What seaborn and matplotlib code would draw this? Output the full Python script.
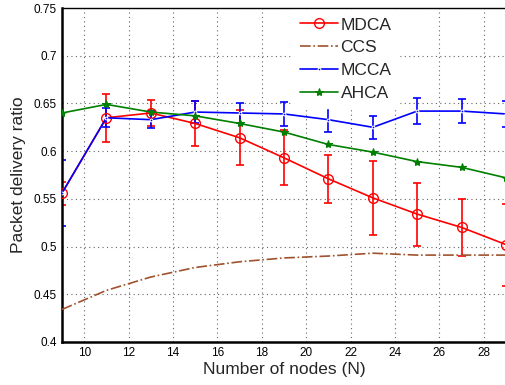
import numpy as np
import pandas as pd
import matplotlib
matplotlib.use("Agg")
import matplotlib.pyplot as plt
import seaborn as sns

# Data
nodes = [9, 11, 13, 15, 17, 19, 21, 23, 25, 27, 29]
mdca = [0.556, 0.635, 0.640, 0.629, 0.614, 0.593, 0.571, 0.551, 0.534, 0.520, 0.502]
mdca_err = [0.012, 0.025, 0.014, 0.024, 0.029, 0.029, 0.025, 0.039, 0.033, 0.030, 0.043]
ccs = [0.434, 0.454, 0.468, 0.478, 0.484, 0.488, 0.490, 0.493, 0.491, 0.491, 0.491]
mcca = [0.556, 0.635, 0.633, 0.641, 0.640, 0.639, 0.633, 0.625, 0.642, 0.642, 0.639]
mcca_err = [0.035, 0.010, 0.009, 0.012, 0.011, 0.013, 0.013, 0.012, 0.014, 0.013, 0.014]
ahca = [0.640, 0.649, 0.641, 0.637, 0.629, 0.620, 0.607, 0.599, 0.589, 0.583, 0.572]

df = pd.DataFrame({'N': nodes, 'MDCA': mdca, 'CCS': ccs, 'MCCA': mcca, 'AHCA': ahca})

sns.set_style("white")
plt.rcParams['font.family'] = ['Liberation Sans', 'DejaVu Sans']

fig = plt.figure(figsize=(5.06, 3.85), dpi=100)
ax = fig.add_axes([0.1225, 0.112, 0.8775, 0.867])

# error bars
ax.errorbar(nodes, mdca, yerr=mdca_err, fmt='none', ecolor='red', elinewidth=1.2, capsize=3, capthick=1.2, zorder=2)
ax.errorbar(nodes, mcca, yerr=mcca_err, fmt='none', ecolor='blue', elinewidth=1.2, capsize=3, capthick=1.2, zorder=2)

sns.lineplot(data=df, x='N', y='MDCA', ax=ax, color='red', marker='o', markersize=7,
             markerfacecolor='none', markeredgecolor='red', markeredgewidth=1, linewidth=1.2, label='MDCA', zorder=3)
sns.lineplot(data=df, x='N', y='CCS', ax=ax, color='#a0522d', linestyle='-.', linewidth=1.2, label='CCS', zorder=3)
sns.lineplot(data=df, x='N', y='MCCA', ax=ax, color='blue', marker='.', markersize=4, linewidth=1.2, label='MCCA', zorder=3)
sns.lineplot(data=df, x='N', y='AHCA', ax=ax, color='green', marker='*', markersize=6,
             markeredgecolor='green', linewidth=1.2, label='AHCA', zorder=3)

ax.set_xlim(9, 29)
ax.set_ylim(0.4, 0.75)
ax.set_xticks(range(10, 29, 2))
ax.set_yticks([0.4, 0.45, 0.5, 0.55, 0.6, 0.65, 0.7, 0.75])
ax.set_yticklabels(['0.4', '0.45', '0.5', '0.55', '0.6', '0.65', '0.7', '0.75'])
ax.tick_params(direction='in', length=3, labelsize=8.5, colors='black')
ax.grid(True, linestyle=(0, (1, 3)), color='#666666', linewidth=0.8)

for s in ['left', 'bottom']:
    ax.spines[s].set_linewidth(1.8)
    ax.spines[s].set_color('black')
ax.spines['top'].set_linewidth(1.0)
ax.spines['top'].set_color('black')
ax.spines['right'].set_visible(False)

ax.set_xlabel('Number of nodes (N)', fontsize=12.5, labelpad=2.5)
ax.set_ylabel('Packet delivery ratio', fontsize=12.5, labelpad=6)

leg = ax.legend(loc='upper left', bbox_to_anchor=(0.52, 0.993), fontsize=12.5, frameon=True,
                fancybox=False, edgecolor='white', framealpha=1, handlelength=2.2,
                handletextpad=0.15, labelspacing=0.45, borderaxespad=0.0)

fig.savefig('out.png', dpi=100)
